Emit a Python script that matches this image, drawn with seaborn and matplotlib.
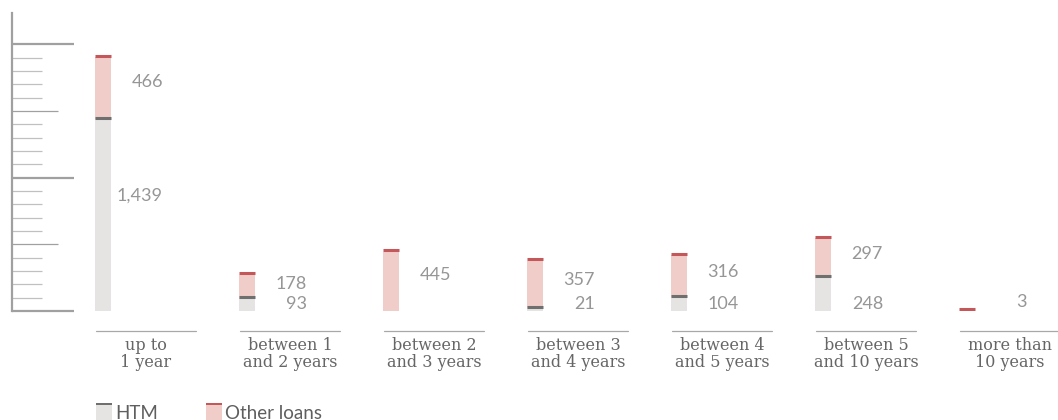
import numpy as np
import pandas as pd
import matplotlib
matplotlib.use("Agg")
import matplotlib.pyplot as plt
import matplotlib.transforms as mtransforms
from matplotlib.patches import Rectangle
import seaborn as sns

categories = ["up to\n1 year", "between 1\nand 2 years", "between 2\nand 3 years",
              "between 3\nand 4 years", "between 4\nand 5 years", "between 5\nand 10 years",
              "more than\n10 years"]
htm = [1439, 93, 0, 21, 104, 248, 0]
other_loans = [466, 178, 445, 357, 316, 297, 3]
series_names = ["HTM", "Other loans"]

HTM_FILL = "#e5e4e3"
HTM_CAP = "#6f6f6f"
OTH_FILL = "#f0cdc9"
OTH_CAP = "#c4575a"
VAL_COL = "#969696"
CAT_COL = "#666666"
AX_COL = "#a0a0a0"

df = pd.DataFrame({"cat": categories, "htm": htm, "other": other_loans})
df["total"] = df["htm"] + df["other"]

sns.set_theme(style="white")
plt.rcParams["font.family"] = ["Lato", "DejaVu Sans"]

W, H = 1058, 420
fig = plt.figure(figsize=(W / 100, H / 100), dpi=100)
ax_left, ax_bottom, ax_top = 12, 109, 13
ax = fig.add_axes([ax_left / W, ax_bottom / H, (W - ax_left) / W, (H - ax_top - ax_bottom) / H])

px_per_unit = 133.33 / 1000
ymax = (H - ax_top - ax_bottom) / px_per_unit
spacing = 144
first_center = 103 - ax_left
bar_w = 16.7 / spacing

sns.barplot(data=df, x="cat", y="total", color=OTH_FILL, saturation=1, width=bar_w,
            errorbar=None, linewidth=0, ax=ax)
sns.barplot(data=df, x="cat", y="htm", color=HTM_FILL, saturation=1, width=bar_w,
            errorbar=None, linewidth=0, ax=ax)

ax.set_xlim(-first_center / spacing, (W - ax_left - first_center) / spacing)
ax.set_ylim(0, ymax)

# caps sitting on top of each segment
cap_tr = mtransforms.offset_copy(ax.transData, fig=fig, y=1.5, units="dots")
xs = np.arange(len(categories))
ax.hlines(df["total"], xs - bar_w / 2, xs + bar_w / 2, colors=OTH_CAP, linewidth=2.2,
          transform=cap_tr, zorder=5)
mask = df["htm"] > 0
ax.hlines(df["htm"][mask], xs[mask] - bar_w / 2, xs[mask] + bar_w / 2, colors=HTM_CAP,
          linewidth=2.2, transform=cap_tr, zorder=5)

# value labels
lab_dx = 60 / spacing
for i, (h, o) in enumerate(zip(htm, other_loans)):
    up_y = max(h + 0.6 * o, 65)
    ax.text(i + lab_dx, up_y, f"{o:,}", ha="right", va="center", fontsize=13,
            color=VAL_COL, fontweight="normal", clip_on=False)
    if h > 0:
        lo_y = 0.6 * h if h > 1000 else 52
        ax.text(i + lab_dx, lo_y, f"{h:,}", ha="right", va="center", fontsize=13,
                color=VAL_COL, fontweight="normal", clip_on=False)

# category labels with separators
cat_dx = 43 / spacing
half = 50 / spacing
sep_y = -20 / px_per_unit
txt_y = -25.5 / px_per_unit
for i, c in enumerate(categories):
    ax.plot([i + cat_dx - half, i + cat_dx + half], [sep_y, sep_y], color="#a8a8a8",
            linewidth=0.9, clip_on=False)
    ax.text(i + cat_dx, txt_y, c, ha="center", va="top", fontsize=11.5,
            family=["DejaVu Serif"], color=CAT_COL, linespacing=1.02, clip_on=False)

# axis styling
ax.set_xlabel("")
ax.set_ylabel("")
ax.set_xticks([])
for s in ["top", "right", "bottom"]:
    ax.spines[s].set_visible(False)
ax.spines["left"].set_color(AX_COL)
ax.spines["left"].set_linewidth(1.6)
ax.set_yticks([0, 500, 1000, 1500, 2000])
ax.set_yticks(np.arange(0, 2001, 100), minor=True)
ax.tick_params(axis="y", which="major", direction="in", length=33.1, width=0.9,
               color="#a0a0a0", labelleft=False, left=True)
ax.tick_params(axis="y", which="minor", direction="in", length=21.6, width=0.9,
               color="#c0c0c0", left=True)
for t, v in zip(ax.yaxis.get_major_ticks(), [0, 500, 1000, 1500, 2000]):
    if v % 1000 == 0:
        t.tick1line.set_markersize(44.6)
        t.tick1line.set_markeredgewidth(1.6)
ax.patch.set_alpha(0)

# legend drawn manually
def legend_item(x0, fill, cap, label):
    fig.add_artist(Rectangle((x0 / W, 0), 16 / W, (H - 405) / H, transform=fig.transFigure,
                             facecolor=fill, edgecolor="none"))
    fig.add_artist(Rectangle((x0 / W, (H - 405) / H), 16 / W, 2.5 / H, transform=fig.transFigure,
                             facecolor=cap, edgecolor="none"))
    fig.text((x0 + 19) / W, 1 / H, label, ha="left", va="baseline", fontsize=13.5,
             color="#5f5f5f")

legend_item(96, HTM_FILL, HTM_CAP, series_names[0])
legend_item(206, OTH_FILL, OTH_CAP, series_names[1])

fig.savefig("out.png", dpi=100)
